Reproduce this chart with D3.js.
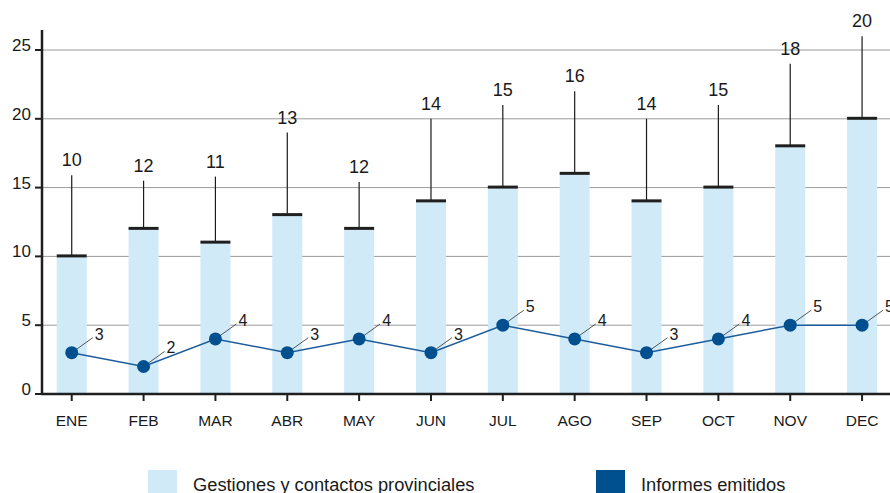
<!DOCTYPE html>
<html>
<head>
<meta charset="utf-8">
<script src="https://cdn.jsdelivr.net/npm/d3@7"></script>
<style>
    body { margin: 0; background: #fff; }
    text { font-family: "Liberation Sans", Arial, Helvetica, sans-serif; fill: #1a1a1a; }
</style>
</head>
<body>
<div id="chart"></div>
<script>
// months
var months = ['ENE', 'FEB', 'MAR', 'ABR', 'MAY', 'JUN', 'JUL', 'AGO', 'SEP', 'OCT', 'NOV', 'DEC'];

// Gestiones y contactos provinciales
var gestiones = [10, 12, 11, 13, 12, 14, 15, 16, 14, 15, 18, 20];

// top of the label leader line above each bar
var leaderTop = [15.9, 15.5, 15.8, 19, 15.4, 20, 21, 22, 20, 21, 24, 26];

// Informes emitidos
var informes = [3, 2, 4, 3, 4, 3, 5, 4, 3, 4, 5, 5];

var yTicks = [0, 5, 10, 15, 20, 25];

var legendLabels = ['Gestiones y contactos provinciales', 'Informes emitidos'];

var width = 890;
var height = 493;

var lightBlue = '#d1eaf8';
var darkBlue = '#00508f';
var lineBlue = '#1d5c9c';

var svg = d3.select('#chart')
    .append('svg')
    .attr('width', width)
    .attr('height', height);

var x_scale = d3.scaleBand()
    .domain(months)
    .range([35.8, 898])
    .padding(0);

var y_scale = d3.scaleLinear()
    .domain([0, 25])
    .range([394, 50]);

var axisLeftX = 42;
var barWidth = 30;

function cx(m) {
    return x_scale(m) + x_scale.bandwidth() / 2;
}

// gridlines
svg.append('g')
    .selectAll('line')
    .data(yTicks.filter(function(d) { return d > 0; }))
    .enter()
    .append('line')
    .attr('x1', axisLeftX)
    .attr('x2', width)
    .attr('y1', function(d) { return y_scale(d); })
    .attr('y2', function(d) { return y_scale(d); })
    .attr('stroke', '#9a9a9a')
    .attr('stroke-width', 1);

// bars
svg.append('g')
    .selectAll('rect')
    .data(gestiones)
    .enter()
    .append('rect')
    .attr('x', function(d, i) { return cx(months[i]) - barWidth / 2; })
    .attr('width', barWidth)
    .attr('y', function(d) { return y_scale(d); })
    .attr('height', function(d) { return y_scale(0) - y_scale(d); })
    .attr('fill', lightBlue);

// leader lines above bars
svg.append('g')
    .selectAll('line')
    .data(gestiones)
    .enter()
    .append('line')
    .attr('x1', function(d, i) { return cx(months[i]); })
    .attr('x2', function(d, i) { return cx(months[i]); })
    .attr('y1', function(d) { return y_scale(d); })
    .attr('y2', function(d, i) { return y_scale(leaderTop[i]); })
    .attr('stroke', '#1a1a1a')
    .attr('stroke-width', 1.2);

// thick caps on bars
svg.append('g')
    .selectAll('line')
    .data(gestiones)
    .enter()
    .append('line')
    .attr('x1', function(d, i) { return cx(months[i]) - barWidth / 2; })
    .attr('x2', function(d, i) { return cx(months[i]) + barWidth / 2; })
    .attr('y1', function(d) { return y_scale(d) - 0.5; })
    .attr('y2', function(d) { return y_scale(d) - 0.5; })
    .attr('stroke', '#1f1f1f')
    .attr('stroke-width', 3);

// bar value labels
svg.append('g')
    .selectAll('text')
    .data(gestiones)
    .enter()
    .append('text')
    .attr('x', function(d, i) { return cx(months[i]); })
    .attr('y', function(d, i) { return y_scale(leaderTop[i]) - 9; })
    .attr('text-anchor', 'middle')
    .style('font-size', '18px')
    .text(function(d) { return d; });

// y axis
var yAxis = svg.append('g');
yAxis.append('line')
    .attr('x1', axisLeftX)
    .attr('x2', axisLeftX)
    .attr('y1', 30)
    .attr('y2', y_scale(0) + 1)
    .attr('stroke', '#1f1f1f')
    .attr('stroke-width', 2.5);
yAxis.selectAll('.tick')
    .data(yTicks)
    .enter()
    .append('line')
    .attr('x1', 35)
    .attr('x2', axisLeftX)
    .attr('y1', function(d) { return y_scale(d); })
    .attr('y2', function(d) { return y_scale(d); })
    .attr('stroke', '#1f1f1f')
    .attr('stroke-width', 2);
yAxis.selectAll('text')
    .data(yTicks)
    .enter()
    .append('text')
    .attr('x', 31)
    .attr('y', function(d) { return y_scale(d) + 1; })
    .attr('text-anchor', 'end')
    .style('font-size', '17px')
    .text(function(d) { return d; });

// x axis
var xAxis = svg.append('g');
xAxis.append('line')
    .attr('x1', axisLeftX - 1)
    .attr('x2', width)
    .attr('y1', y_scale(0))
    .attr('y2', y_scale(0))
    .attr('stroke', '#1f1f1f')
    .attr('stroke-width', 2.5);
xAxis.selectAll('.tick')
    .data(months)
    .enter()
    .append('line')
    .attr('x1', function(d) { return cx(d); })
    .attr('x2', function(d) { return cx(d); })
    .attr('y1', y_scale(0))
    .attr('y2', y_scale(0) + 7)
    .attr('stroke', '#1f1f1f')
    .attr('stroke-width', 2);
xAxis.selectAll('text')
    .data(months)
    .enter()
    .append('text')
    .attr('x', function(d) { return cx(d); })
    .attr('y', 426)
    .attr('text-anchor', 'middle')
    .style('font-size', '15.5px')
    .text(function(d) { return d; });

// informes line
var valueline = d3.line()
    .x(function(d, i) { return cx(months[i]); })
    .y(function(d) { return y_scale(d); });

svg.append('path')
    .datum(informes)
    .attr('fill', 'none')
    .attr('stroke', lineBlue)
    .attr('stroke-width', 1.5)
    .attr('d', valueline);

// leaders for point labels
svg.append('g')
    .selectAll('line')
    .data(informes)
    .enter()
    .append('line')
    .attr('x1', function(d, i) { return cx(months[i]); })
    .attr('x2', function(d, i) { return cx(months[i]) + 21; })
    .attr('y1', function(d) { return y_scale(d); })
    .attr('y2', function(d) { return y_scale(d) - 15; })
    .attr('stroke', '#444')
    .attr('stroke-width', 0.9);

svg.append('g')
    .selectAll('circle')
    .data(informes)
    .enter()
    .append('circle')
    .attr('cx', function(d, i) { return cx(months[i]); })
    .attr('cy', function(d) { return y_scale(d); })
    .attr('r', 6.5)
    .attr('fill', darkBlue);

svg.append('g')
    .selectAll('text')
    .data(informes)
    .enter()
    .append('text')
    .attr('x', function(d, i) { return cx(months[i]) + 23; })
    .attr('y', function(d) { return y_scale(d) - 13; })
    .style('font-size', '16px')
    .text(function(d) { return d; });

// legend
var legendX = [148, 596];
var legendColors = [lightBlue, darkBlue];
var legend = svg.append('g');
legend.selectAll('rect')
    .data(legendLabels)
    .enter()
    .append('rect')
    .attr('x', function(d, i) { return legendX[i]; })
    .attr('y', 470)
    .attr('width', 29)
    .attr('height', 25)
    .attr('fill', function(d, i) { return legendColors[i]; });
legend.selectAll('text')
    .data(legendLabels)
    .enter()
    .append('text')
    .attr('x', function(d, i) { return legendX[i] + 45; })
    .attr('y', 491)
    .style('font-size', '18.3px')
    .text(function(d) { return d; });
</script>
</body>
</html>
